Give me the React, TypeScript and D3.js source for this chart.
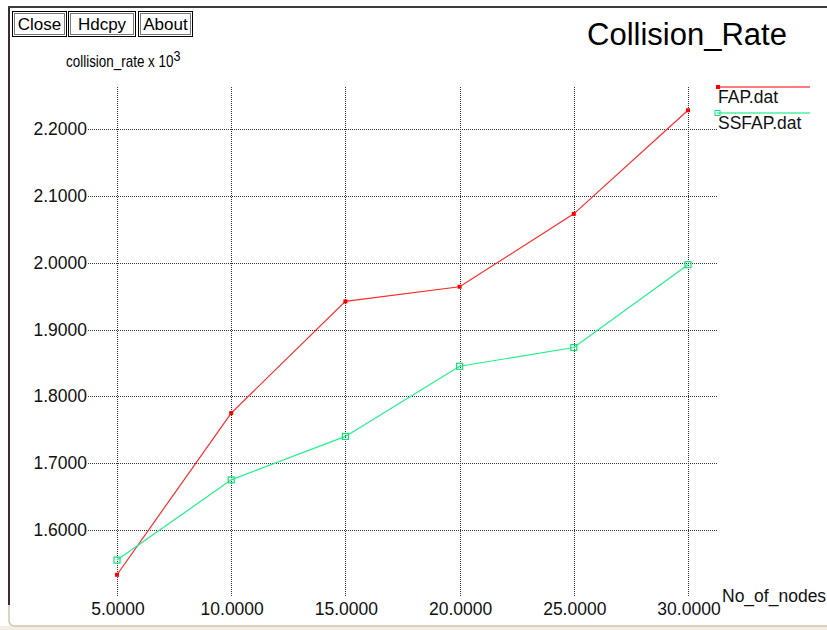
import React, { useEffect, useRef } from 'react';
import * as d3 from 'd3';

const nodes = [5, 10, 15, 20, 25, 30];
const fapRate = [1.533, 1.775, 1.942, 1.964, 2.073, 2.228];
const ssfapRate = [1.555, 1.675, 1.740, 1.845, 1.873, 1.997];
const xTicks = [5, 10, 15, 20, 25, 30];
const yTicks = [1.6, 1.7, 1.8, 1.9, 2.0, 2.1, 2.2];
const buttons = ['Close', 'Hdcpy', 'About'];

const App = () => {
  const svgRef = useRef<SVGSVGElement>(null);

  useEffect(() => {
    const width = 827;
    const height = 630;
    const plot = { left: 88, right: 717, top: 87, bottom: 597 };
    const font = '"Liberation Sans", Arial, sans-serif';

    const svg = d3.select(svgRef.current)
      .attr('width', width)
      .attr('height', height)
      .style('background', '#ffffff');
    svg.selectAll('*').remove();

    const xScale = d3.scaleLinear().domain([5, 30]).range([117, 688]);
    const yScale = d3.scaleLinear().domain([1.6, 2.2]).range([530, 129]);
    const fmt = d3.format('.4f');

    // window frame
    svg.append('rect')
      .attr('x', 0).attr('y', 626).attr('width', width).attr('height', 4)
      .attr('fill', '#f2eee4');
    svg.append('path')
      .attr('d', `M9,605 L9,620 Q9,626 15,626 L${width},626`)
      .attr('fill', 'none').attr('stroke', '#cfc6b0').attr('stroke-width', 1.5);
    svg.append('line')
      .attr('x1', 9).attr('x2', 9).attr('y1', 7).attr('y2', 605)
      .attr('stroke', '#3b2b2b').attr('stroke-width', 2);
    svg.append('line')
      .attr('x1', 8).attr('x2', width).attr('y1', 7).attr('y2', 7)
      .attr('stroke', '#3a3a3a').attr('stroke-width', 2);

    // buttons
    const btnX = [12, 68, 138];
    const btnW = [54, 67, 54];
    buttons.forEach((b, i) => {
      const g = svg.append('g');
      g.append('rect')
        .attr('x', btnX[i] + 0.5).attr('y', 11.5).attr('width', btnW[i]).attr('height', 25)
        .attr('fill', '#fff').attr('stroke', '#000');
      g.append('rect')
        .attr('x', btnX[i] + 2.5).attr('y', 13.5).attr('width', btnW[i] - 4).attr('height', 21)
        .attr('fill', 'none').attr('stroke', '#777');
      g.append('text')
        .attr('x', btnX[i] + btnW[i] / 2 + 0.5).attr('y', 30)
        .attr('text-anchor', 'middle')
        .style('font-family', font).style('font-size', '17px')
        .attr('fill', '#000')
        .text(b);
    });

    // title
    svg.append('text')
      .attr('x', 587).attr('y', 45)
      .style('font-family', font).style('font-size', '31px')
      .attr('fill', '#000')
      .text('Collision_Rate');

    // y axis title
    const yt = svg.append('text')
      .attr('transform', 'translate(66,67) scale(0.84,1)')
      .style('font-family', font).style('font-size', '16px')
      .attr('fill', '#000');
    yt.append('tspan').text('collision_rate x 10');
    yt.append('tspan').attr('dy', -6).style('font-size', '15px').text('3');

    // grid
    svg.selectAll('.vgrid')
      .data(xTicks)
      .enter().append('line')
      .attr('class', 'vgrid')
      .attr('x1', d => Math.round(xScale(d)) + 0.5)
      .attr('x2', d => Math.round(xScale(d)) + 0.5)
      .attr('y1', plot.top).attr('y2', plot.bottom)
      .attr('stroke', '#333').attr('stroke-dasharray', '1,1');

    svg.selectAll('.hgrid')
      .data(yTicks)
      .enter().append('line')
      .attr('class', 'hgrid')
      .attr('x1', plot.left).attr('x2', plot.right)
      .attr('y1', d => Math.round(yScale(d)) + 0.5)
      .attr('y2', d => Math.round(yScale(d)) + 0.5)
      .attr('stroke', '#333').attr('stroke-dasharray', '1,1');

    // tick labels
    svg.selectAll('.ylab')
      .data(yTicks)
      .enter().append('text')
      .attr('class', 'ylab')
      .attr('x', 87).attr('y', d => yScale(d) + 6)
      .attr('text-anchor', 'end')
      .style('font-family', font).style('font-size', '17.5px')
      .attr('fill', '#111')
      .text(d => fmt(d));

    svg.selectAll('.xlab')
      .data(xTicks)
      .enter().append('text')
      .attr('class', 'xlab')
      .attr('x', d => xScale(d) + 1).attr('y', 615)
      .attr('text-anchor', 'middle')
      .style('font-family', font).style('font-size', '17.5px')
      .attr('fill', '#111')
      .text(d => fmt(d));

    svg.append('text')
      .attr('x', 722).attr('y', 602)
      .style('font-family', font).style('font-size', '17.5px')
      .attr('fill', '#111')
      .text('No_of_nodes');

    // lines
    const line = d3.line<number>()
      .x((d, i) => xScale(nodes[i]))
      .y(d => yScale(d));

    svg.append('path')
      .datum(fapRate)
      .attr('fill', 'none').attr('stroke', '#ff2a2a').attr('stroke-width', 1.2)
      .attr('d', line);

    svg.append('path')
      .datum(ssfapRate)
      .attr('fill', 'none').attr('stroke', '#22f08a').attr('stroke-width', 1.2)
      .attr('d', line);

    svg.selectAll('.dot-fap')
      .data(fapRate)
      .enter().append('rect')
      .attr('class', 'dot-fap')
      .attr('x', (d, i) => xScale(nodes[i]) - 2)
      .attr('y', d => yScale(d) - 2)
      .attr('width', 4).attr('height', 4)
      .attr('fill', '#ff0000');

    svg.selectAll('.dot-ssfap')
      .data(ssfapRate)
      .enter().append('rect')
      .attr('class', 'dot-ssfap')
      .attr('x', (d, i) => xScale(nodes[i]) - 3)
      .attr('y', d => yScale(d) - 3)
      .attr('width', 6).attr('height', 6)
      .attr('fill', 'none').attr('stroke', '#14e07a').attr('stroke-width', 1.2);

    // legend
    const legend = [
      { name: 'FAP.dat', color: '#ff5050', marker: '#ff0000', y: 87, hollow: false },
      { name: 'SSFAP.dat', color: '#50f0a0', marker: '#14e07a', y: 113, hollow: true },
    ];
    legend.forEach(l => {
      svg.append('line')
        .attr('x1', 717).attr('x2', 810).attr('y1', l.y).attr('y2', l.y)
        .attr('stroke', l.color).attr('stroke-width', 1.5);
      if (l.hollow) {
        svg.append('rect')
          .attr('x', 715).attr('y', l.y - 2.5).attr('width', 5).attr('height', 5)
          .attr('fill', 'none').attr('stroke', l.marker);
      } else {
        svg.append('rect')
          .attr('x', 716).attr('y', l.y - 2).attr('width', 4).attr('height', 4)
          .attr('fill', l.marker);
      }
      svg.append('text')
        .attr('x', 718).attr('y', l.y + 16)
        .style('font-family', font).style('font-size', '17.5px')
        .attr('fill', '#111')
        .text(l.name);
    });
  }, []);

  return (
    <svg ref={svgRef} style={{ position: 'absolute', left: 0, top: 0 }}></svg>
  );
};

export default App;
